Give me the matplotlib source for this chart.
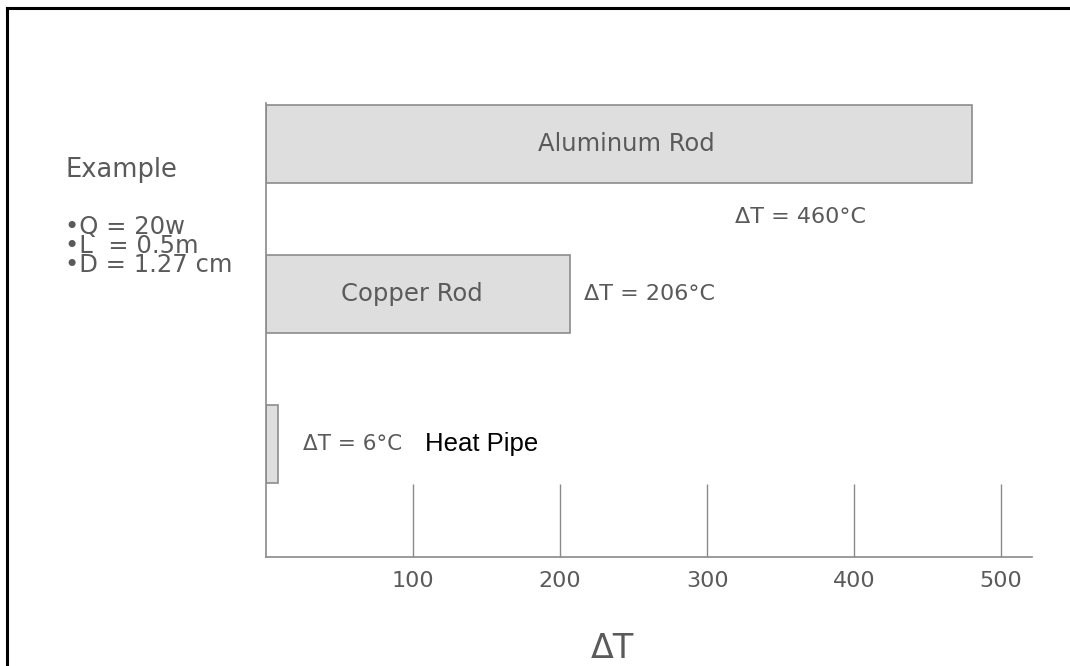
import matplotlib
matplotlib.use("Agg")
import matplotlib.pyplot as plt
from matplotlib.lines import Line2D

# data
rods = ["Heat Pipe", "Copper Rod", "Aluminum Rod"]
bar_len = [8, 207, 480]
dt_labels = ["\u0394T = 6\u00b0C", "\u0394T = 206\u00b0C", "\u0394T = 460\u00b0C"]
xticks = [100, 200, 300, 400, 500]
example_lines = ["\u2022Q = 20w", "\u2022L  = 0.5m", "\u2022D = 1.27 cm"]

W, H = 1070, 666
fig = plt.figure(figsize=(W / 100, H / 100), dpi=100)
fig.patch.set_facecolor("white")

def fx(px):
    return px / W

def fy(py):
    return 1 - py / H

ax = fig.add_axes([fx(266), fy(557), fx(1032) - fx(266), fy(103) - fy(557)])

narrow = ["Liberation Sans Narrow", "DejaVu Sans"]
grey = "#5a5a5a"

ypos = list(range(len(rods)))
ax.barh(ypos, bar_len, height=0.52, left=0, color="#dedede",
        edgecolor="#8c8c8c", linewidth=1.2, align="center")

ax.set_xlim(0, 521)
ax.set_ylim(-0.753, 2.273)

for s in ["top", "right"]:
    ax.spines[s].set_visible(False)
for s in ["left", "bottom"]:
    ax.spines[s].set_color("#8a8a8a")
    ax.spines[s].set_linewidth(1.2)

ax.set_yticks([])
ax.set_xticks(xticks)
ax.set_xticklabels([str(t) for t in xticks], family=narrow, fontsize=16, color=grey)
ax.tick_params(axis="x", direction="in", length=52.5, width=1.0, color="#8a8a8a", pad=10)
ax.set_xlabel("\u0394T", family=narrow, fontsize=24, color=grey)
ax.xaxis.set_label_coords((612 - 266) / (1032 - 266), -(648 - 557) / (557 - 103))
ax.xaxis.label.set_va("center")

# labels inside bars
ax.text(bar_len[2] / 2 + 5, ypos[2], rods[2], ha="center", va="center",
        family=narrow, fontsize=17.5, color=grey)
ax.text(bar_len[1] / 2 - 4, ypos[1], rods[1], ha="center", va="center",
        family=narrow, fontsize=17.5, color=grey)

# delta-T labels
ax.text(319, 1.513, dt_labels[2], ha="left", va="center", family=narrow, fontsize=16, color=grey)
ax.text(216, ypos[1], dt_labels[1], ha="left", va="center", family=narrow, fontsize=16, color=grey)
ax.text(25, ypos[0], dt_labels[0], ha="left", va="center", family=narrow, fontsize=15.5, color=grey)
ax.text(108, ypos[0], rods[0], ha="left", va="center",
        family=["Liberation Sans", "DejaVu Sans"], fontsize=18.5, color="black")

# example block at the left
fig.text(fx(65), fy(170), "Example", ha="left", va="center", fontsize=18.5, color=grey)
fig.text(fx(65), fy(246), "\n".join(example_lines), ha="left", va="center",
         fontsize=17.5, color=grey, linespacing=0.72)

# frame (only top and left edges are inside the picture)
fig.add_artist(Line2D([fx(7), fx(7)], [0, fy(8)], color="black", linewidth=2.2))
fig.add_artist(Line2D([fx(7), 1], [fy(8), fy(8)], color="black", linewidth=2.2))

fig.savefig("out.png", dpi=100, facecolor="white")
